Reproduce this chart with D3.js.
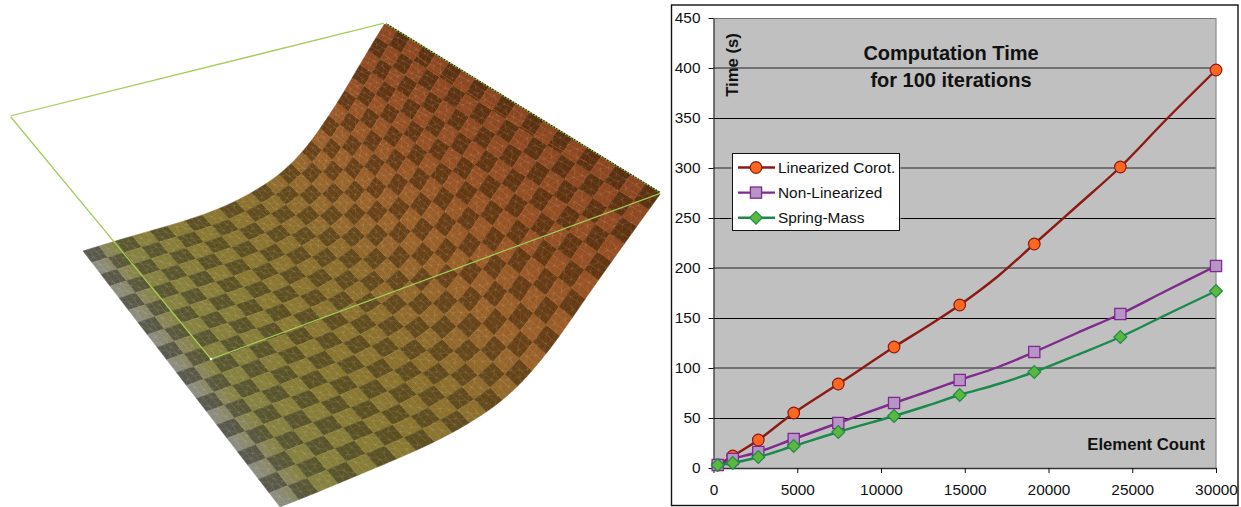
<!DOCTYPE html>
<html><head><meta charset="utf-8">
<script src="https://cdn.jsdelivr.net/npm/d3@7"></script>
<style>html,body{margin:0;padding:0;background:#fff}svg{display:block}text{font-family:"Liberation Sans",Arial,sans-serif;fill:#111}</style>
</head><body><svg id="c" width="1241" height="507"></svg>
<script>
// ---- chart data ----
const seriesNames = ["Linearized Corot.", "Non-Linearized", "Spring-Mass"];
const elementCounts = [250,1150,2675,4790,7450,10780,12700,14700,17000,19150,21700,24290,27000,30000];
const hasMarker     = [1,1,1,1,1,1,0,1,0,1,0,1,0,1];
const linearizedCorot = [3,12,28,55,84,121,141,163,192,224,262,301,348,398];
const nonLinearized   = [3,9,16,29,45,65,76,88,101,116,135,154,177,202];
const springMass      = [3,5,11,22,36,52,62,73,84,96,113,131,153,177];
const yTicks = [0,50,100,150,200,250,300,350,400,450];
const xTicks = [0,5000,10000,15000,20000,25000,30000];
const titleLines = ["Computation Time","for 100 iterations"];
// ---- surface outline (illustration) ----
const farEdgeX  = [83,115,150,185,220,252,280,303,320,338,352,368,385];
const farEdgeY  = [251,241,231,221,209,193,175,152,129,102,78,51,23];
const nearEdgeX = [280,318,358,397,435,470,503,532,560,585,612,637,661];
const nearEdgeY = [507,492,475,459,442,423,401,372,336,299,261,226,193];
const frameX = [10,385,661,211];
const frameY = [116,23,193,359];
const creaseX = [413,436,460,510,560,587];
const creaseY = [53,71,87,120,150,162];
const lightStops = ["#8c8c84","#85813f","#877830","#8c6c2a","#9a6028","#964f22","#8a441e"];
const darkStops  = ["#585850","#58562f","#5a4f20","#61491a","#683f14","#633510","#592e0e"];

const svg = d3.select("#c");
const defs = svg.append("defs");
defs.append("filter").attr("id","soft").attr("x","-5%").attr("y","-5%").attr("width","110%").attr("height","110%")
  .append("feGaussianBlur").attr("stdDeviation",.45);
// ---------- surface ----------
const nu = 20, nv = 24;
const fx = d3.interpolateBasis(farEdgeX), fy = d3.interpolateBasis(farEdgeY);
const nx = d3.interpolateBasis(nearEdgeX), ny = d3.interpolateBasis(nearEdgeY);
const warp = t => 0.9*t + 0.1*t*t;
const P = (i,j) => { const u = warp(i/nu), v = j/nv;
  return [fx(v)*(1-u)+nx(v)*u, fy(v)*(1-u)+ny(v)*u]; };
const stopsAt=[0,.08,.25,.45,.62,.8,1];
const light = d3.scaleLinear().domain(stopsAt).range(lightStops).interpolate(d3.interpolateRgb);
const dark  = d3.scaleLinear().domain(stopsAt).range(darkStops).interpolate(d3.interpolateRgb);
const surf = svg.append("g").attr("filter","url(#soft)");
const sub = 3;
const lineGen = d3.line();
for (let i=0;i<nu;i++) for (let j=0;j<nv;j++) {
  const isDark = (i+j)%2===0;
  for (let s=0;s<sub;s++) {
    const j0=j+s/sub, j1=j+(s+1)/sub, c=(isDark?dark:light)((j0+j1)/2/nv);
    surf.append("path").attr("d",lineGen([P(i,j0),P(i+1,j0),P(i+1,j1),P(i,j1)])+"Z")
      .attr("fill",c).attr("stroke",c).attr("stroke-width",.5);
  }
}
// fine triangle mesh texture
const mesh = d3.path();
const M=nu*3, N=nv*3;
const node = (a,b) => { const o=((a*7+b*13)%5-2)*.14, q=((a*11+b*3)%5-2)*.14;
  const edgeA=(a===0||a===M)?0:o, edgeB=(b===0||b===N)?0:q;
  return P((a+edgeA)/3,(b+edgeB)/3); };
for (let a=0;a<M;a++) for (let b=0;b<N;b++) {
  const p=node(a,b), r=node(a+1,b), t=node(a,b+1), d=(a+b)%2?node(a+1,b+1):null;
  mesh.moveTo(...p); mesh.lineTo(...r); mesh.moveTo(...p); mesh.lineTo(...t);
  if (d) { mesh.moveTo(...p); mesh.lineTo(...d); } else { mesh.moveTo(...r); mesh.lineTo(...t); }
}
surf.append("path").attr("d",mesh.toString()).attr("fill","none").attr("stroke","#fff").attr("stroke-width",.4).attr("stroke-opacity",.15);
// crease + frame
svg.append("path").attr("d",d3.line().curve(d3.curveBasis)(creaseX.map((x,i)=>[x,creaseY[i]])))
  .attr("fill","none").attr("stroke","#ad5c1e").attr("stroke-width",.9).attr("stroke-opacity",.8);
const framePts = frameX.map((x,i)=>[x,frameY[i]]);
svg.append("path").attr("d",lineGen(framePts)+"Z").attr("fill","none").attr("stroke","#a3cc58").attr("stroke-width",1.25);
svg.append("path").attr("d",lineGen([framePts[1],framePts[2]])).attr("stroke","#1f2a10").attr("stroke-width",1.2).attr("stroke-dasharray","1.5 1.5").attr("fill","none");
svg.selectAll("circle.corner").data(framePts).join("circle").attr("class","corner")
  .attr("cx",d=>d[0]).attr("cy",d=>d[1]).attr("r",1.3).attr("fill","#f4f6e8");

// ---------- chart ----------
const L=713.5,R=1216,T=18,B=468;
svg.append("rect").attr("x",671.5).attr("y",5).attr("width",566.5).attr("height",500.5).attr("fill","#fff").attr("stroke","#111").attr("stroke-width",1.4);
svg.append("rect").attr("x",L).attr("y",T).attr("width",R-L).attr("height",B-T).attr("fill","#c0c0c0");
const x=d3.scaleLinear().domain([0,30000]).range([L,R]);
const y=d3.scaleLinear().domain([0,450]).range([B,T]);
svg.append("g").selectAll("line").data(yTicks.filter(v=>v>0)).join("line")
  .attr("x1",L).attr("x2",R)
  .attr("y1",(d,i)=> y(d)+(i%2===0?.5:0)).attr("y2",(d,i)=> y(d)+(i%2===0?.5:0))
  .attr("stroke",(d,i)=> d===450?"#777":(i%2===0?"#000":"#222")).attr("stroke-width",1);
svg.append("line").attr("x1",R).attr("x2",R).attr("y1",T).attr("y2",B).attr("stroke","#8a8a8a").attr("stroke-width",1.2);
const axY=svg.append("g").attr("transform",`translate(${L},0)`).call(d3.axisLeft(y).tickValues(yTicks).tickFormat(d3.format("d")).tickSize(5).tickSizeOuter(0).tickPadding(8));
const axX=svg.append("g").attr("transform",`translate(0,${B})`).call(d3.axisBottom(x).tickValues(xTicks).tickFormat(d3.format("d")).tickSize(5).tickSizeOuter(0).tickPadding(11));
[axY,axX].forEach(a=>{a.selectAll("text").attr("font-size",15.4).attr("font-family",'"Liberation Sans",Arial,sans-serif').attr("fill","#222");
  a.selectAll("line,path").attr("stroke","#111");});
axY.selectAll("text").attr("dy","0.28em");
axX.select("path").attr("stroke","#333").attr("stroke-width",1.3);

const styles=[
 {line:"#8b1a12",fill:"#ff6620",stroke:"#8b1a12",shape:"circle",vals:linearizedCorot},
 {line:"#7f2a8c",fill:"#b794c6",stroke:"#7f2a8c",shape:"square",vals:nonLinearized},
 {line:"#1a8a4c",fill:"#5cb83c",stroke:"#1a8a4c",shape:"diamond",vals:springMass}];
function marker(g,shape,fill,stroke){
  if(shape==="circle") return g.append("circle").attr("r",5.8).attr("fill",fill).attr("stroke",stroke).attr("stroke-width",1.2);
  if(shape==="square") return g.append("rect").attr("x",-5.6).attr("y",-5.6).attr("width",11.2).attr("height",11.2).attr("fill",fill).attr("stroke",stroke).attr("stroke-width",1.3);
  return g.append("path").attr("d","M0,-6.4L6.4,0L0,6.4L-6.4,0Z").attr("fill",fill).attr("stroke",stroke).attr("stroke-width",1.2);
}
styles.forEach(s=>{
  const g=svg.append("g");
  g.append("path").attr("d",d3.line().curve(d3.curveCatmullRom.alpha(.5)).x((d,i)=>x(elementCounts[i])).y(d=>y(d))(s.vals))
    .attr("fill","none").attr("stroke",s.line).attr("stroke-width",2.4).attr("stroke-linejoin","round");
  s.vals.forEach((v,i)=>{ if(!hasMarker[i])return;
    marker(g.append("g").attr("transform",`translate(${x(elementCounts[i])},${y(v)})`),s.shape,s.fill,s.stroke);});
});
// titles
svg.selectAll("text.t").data(titleLines).join("text").attr("class","t").attr("x",951).attr("y",(d,i)=>60+i*27.3)
  .attr("text-anchor","middle").attr("font-size",20).attr("font-weight","bold").text(d=>d);
svg.append("text").attr("transform","translate(738,65) rotate(-90)").attr("text-anchor","middle").attr("font-size",16.7).attr("font-weight","bold").text("Time (s)");
svg.append("text").attr("x",1205).attr("y",450).attr("text-anchor","end").attr("font-size",16.7).attr("font-weight","bold").text("Element Count");
// legend
svg.append("rect").attr("x",731.5).attr("y",152.5).attr("width",169).attr("height",79).attr("fill","#c0c0c0");
svg.append("rect").attr("x",732.5).attr("y",153.5).attr("width",167).attr("height",77).attr("fill","#fff").attr("stroke","#111").attr("stroke-width",1);
seriesNames.forEach((n,i)=>{
  const yy=167.5+i*25.1, s=styles[i], g=svg.append("g");
  g.append("line").attr("x1",738).attr("x2",775).attr("y1",yy).attr("y2",yy).attr("stroke",s.line).attr("stroke-width",2.4);
  marker(g.append("g").attr("transform",`translate(756,${yy})`),s.shape,s.fill,s.stroke);
  g.append("text").attr("x",778).attr("y",yy+5.3).attr("font-size",15.4).text(n);
});
</script></body></html>
